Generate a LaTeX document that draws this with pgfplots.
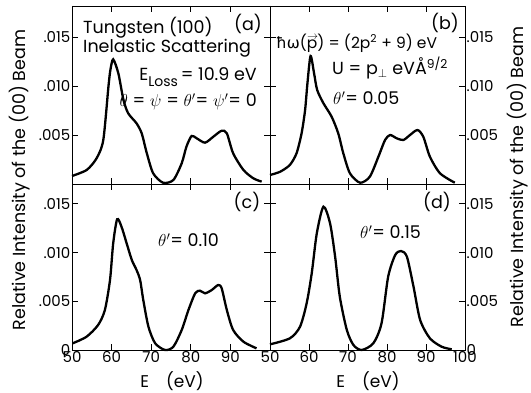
\documentclass[border=0pt]{standalone}
\usepackage{fontspec}
\setmainfont{Poppins}
\newfontfamily\dejavu{DejaVu Sans}
\usepackage{pgfplots}
\pgfplotsset{compat=1.18}
\begin{document}
\begin{tikzpicture}[x=1pt,y=1pt]
\useasboundingbox (0pt,0pt) rectangle (531pt,393pt);
\pgfplotsset{
  panel/.style={scale only axis, anchor=south west, xmin=50, xmax=100, ymin=0,
    axis line style={line width=0.8pt},
    every tick/.style={line width=0.8pt, black},
    major tick length=6pt, tick align=inside,
    xtick={50,60,...,100},
    ytick={0,0.005,0.010,0.015},
    scaled y ticks=false,
    ticklabel style={font=\fontsize{15}{17}\selectfont, inner sep=1.5pt},
    clip=false,
  },
  curve/.style={line width=2.3pt, black, smooth, tension=0.45, no marks},
}
% (a)
\begin{axis}[panel, at={(72pt,208.5pt)}, width=198pt, height=178.5pt, ymax=0.018214,
  xticklabels={}, yticklabels={,.005,.010,.015}]
\addplot[curve] coordinates {
(50,0.00087)(53.7,0.00148)(56.2,0.00267)(57.9,0.00454)(59.2,0.00998)(59.7,0.0117)
(60.4,0.01277)(61.7,0.01135)(63.0,0.00862)(64.2,0.00726)(66.3,0.00624)(67.6,0.00522)
(68.9,0.00318)(70.5,0.00114)(73.0,0.00018)(75.6,0.00046)(77.7,0.00216)(78.9,0.00386)
(80.2,0.00495)(81.5,0.00471)(83.6,0.00427)(85.7,0.00488)(87.8,0.00549)(89.1,0.00522)
(90.7,0.00318)(93.3,0.00148)(95.8,0.00063)(97.9,0.00029)};
\end{axis}
% (b)
\begin{axis}[panel, at={(270pt,208.5pt)}, width=195pt, height=178.5pt, ymax=0.018214,
  xticklabels={}, yticklabel pos=right, yticklabels={,.005,.010,.015}]
\addplot[curve] coordinates {
(50,0.00097)(52.6,0.0013)(55.1,0.002)(56.8,0.00318)(58.1,0.00522)(59.0,0.0076)
(59.6,0.01033)(60.4,0.01311)(61.3,0.01135)(62.1,0.00964)(63.7,0.00829)(65.8,0.00692)
(67.5,0.00522)(68.8,0.00318)(70.5,0.00114)(73.1,0.00018)(75.6,0.0008)(77.8,0.00284)
(79.5,0.00454)(80.8,0.00505)(82.5,0.00471)(84.2,0.00454)(85.9,0.00505)(87.8,0.00556)
(89.3,0.00488)(91.0,0.00284)(93.6,0.00114)(97.4,0.00018)};
\end{axis}
% (c)
\begin{axis}[panel, at={(72pt,43pt)}, width=198pt, height=165.5pt, ymax=0.01699,
  xticklabels={50,60,70,80,90,}, yticklabels={0,.005,.010,.015}]
\addplot[curve] coordinates {
(50.2,0.00069)(53.7,0.00137)(56.6,0.00257)(58.3,0.0041)(59.6,0.00719)(60.4,0.01095)
(61.4,0.01342)(62.5,0.01266)(63.8,0.01095)(65.1,0.00924)(66.3,0.00821)(67.2,0.00719)
(68.0,0.00513)(69.3,0.00239)(71.0,0.00069)(73.5,0.0)(75.6,0.00034)(77.7,0.00205)
(79.4,0.0041)(81.1,0.00582)(82.3,0.00609)(83.6,0.00582)(85.3,0.00616)(86.9,0.00667)
(87.8,0.00633)(89.1,0.0041)(90.7,0.00205)(93.3,0.00085)(96.6,0.00017)};
\end{axis}
% (d)
\begin{axis}[panel, at={(270pt,43pt)}, width=195pt, height=165.5pt, ymax=0.01699,
  xticklabels={50,60,70,80,90,100}, yticklabel pos=right, yticklabels={0,.005,.010,.015}]
\addplot[curve] coordinates {
(50,0.00058)(55.1,0.0012)(57.7,0.00239)(59.4,0.0048)(60.7,0.00787)(62.0,0.01198)
(63.7,0.01471)(65.4,0.013)(66.7,0.00958)(67.9,0.00547)(69.7,0.00205)(71.4,0.00051)
(73.5,0.0)(76.5,0.00069)(78.6,0.00274)(80.3,0.00753)(82.1,0.00975)(83.6,0.01016)
(85.1,0.00958)(86.8,0.0065)(88.5,0.00308)(91.0,0.0012)(94.0,0.00034)(96.6,0.00007)};
\end{axis}
% annotations
\begin{scope}[every node/.style={font=\fontsize{17.5}{20}\selectfont, inner sep=0pt}]
\node at (248pt,369pt) {(a)};
\node[anchor=west] at (83pt,365pt) {Tungsten (100)};
\node[anchor=west] at (83pt,345pt) {Inelastic Scattering};
\node[anchor=east] at (257pt,316pt) {E\raisebox{-0.35em}{\fontsize{14}{14}\selectfont Loss}\,= 10.9 eV};
\node[anchor=east] at (257pt,291pt) {$\theta$ = $\psi$ = $\theta'$= $\psi'$= 0};
\node at (445pt,370pt) {(b)};
\node[anchor=west, font=\fontsize{15.5}{18}\selectfont] at (276pt,350pt) {{\dejavu ħω}(p\llap{\raisebox{0.55em}{\fontsize{11}{11}\selectfont$\rightarrow$}\hspace{-0.5pt}}) = (2p\textsuperscript{2} + 9) eV};
\node[anchor=west] at (332pt,325pt) {U = p$_\perp$ eVÅ\textsuperscript{9/2}};
\node[anchor=west] at (333pt,295pt) {$\theta'$= 0.05};
\node at (247pt,191pt) {(c)};
\node[anchor=west] at (158pt,153pt) {$\theta'$= 0.10};
\node at (437pt,191pt) {(d)};
\node[anchor=west] at (360pt,161pt) {$\theta'$= 0.15};
\node[font=\fontsize{17}{19}\selectfont] at (172pt,12pt) {E\quad (eV)};
\node[font=\fontsize{17}{19}\selectfont] at (368pt,12pt) {E\quad (eV)};
\node[rotate=90] at (20pt,213pt) {Relative Intensity of the (00) Beam};
\node[rotate=90] at (518pt,216pt) {Relative Intensity of the (00) Beam};
\end{scope}
\end{tikzpicture}
\end{document}
